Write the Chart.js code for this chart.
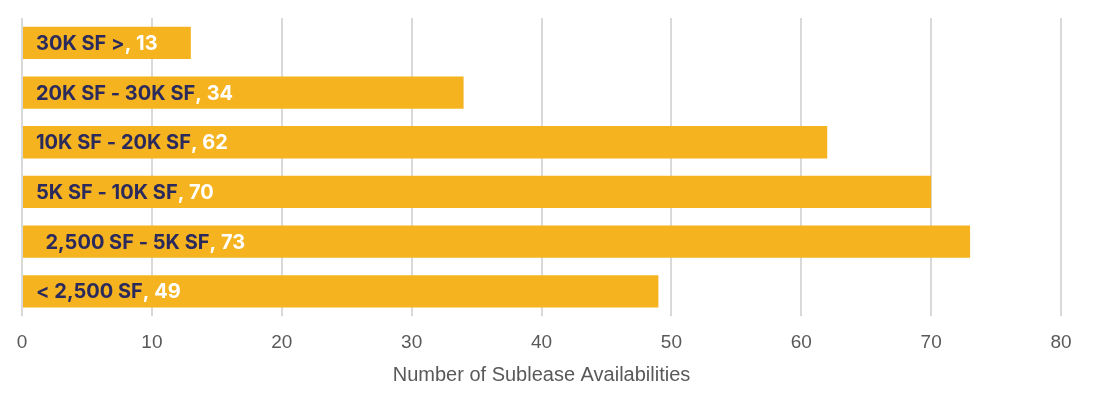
<!DOCTYPE html>
<html lang="en">
<head>
    <meta charset="UTF-8">
    <title>Sublease Availabilities</title>
    <script src="https://cdn.jsdelivr.net/npm/chart.js"></script>
    <style>
        body { margin: 0; background: #fff; }
        .chart-container { position: relative; width: 1108px; height: 395px; }
    </style>
</head>
<body>
<div class="chart-container">
    <canvas id="chart"></canvas>
</div>
<script>
    // Данные
    const categories = ['30K SF >', '20K SF - 30K SF', '10K SF - 20K SF', '5K SF - 10K SF', '  2,500 SF - 5K SF', '< 2,500 SF'];
    const values = [13, 34, 62, 70, 73, 49];
    const xTicks = [0, 10, 20, 30, 40, 50, 60, 70, 80];

    const BAR_COLOR = '#F5B320';
    const NAVY = '#2A2A5C';

    // Подписи внутри столбцов: категория тёмным, значение белым
    const barLabels = {
        id: 'barLabels',
        afterDatasetsDraw(chart) {
            const ctx = chart.ctx;
            const meta = chart.getDatasetMeta(0);
            ctx.save();
            ctx.font = 'bold 20px Inter';
            ctx.textBaseline = 'middle';
            ctx.textAlign = 'left';
            meta.data.forEach((bar, i) => {
                const x = bar.base + 13;
                const y = bar.y + 1;
                const name = categories[i];
                ctx.fillStyle = NAVY;
                ctx.fillText(name, x, y);
                const w = ctx.measureText(name).width;
                ctx.fillStyle = '#ffffff';
                ctx.fillText(', ' + values[i], x + w, y);
            });
            ctx.restore();
        }
    };

    new Chart(document.getElementById('chart'), {
        type: 'bar',
        data: {
            labels: categories,
            datasets: [{
                data: values,
                backgroundColor: BAR_COLOR,
                borderWidth: 0,
                barPercentage: 0.65,
                categoryPercentage: 1.0
            }]
        },
        plugins: [barLabels],
        options: {
            indexAxis: 'y',
            responsive: true,
            maintainAspectRatio: false,
            animation: false,
            layout: {
                padding: {left: 22, right: 47, top: 18, bottom: 10}
            },
            plugins: {
                legend: {display: false},
                tooltip: {enabled: false}
            },
            scales: {
                y: {
                    display: false
                },
                x: {
                    min: 0,
                    max: 80,
                    afterBuildTicks: axis => { axis.ticks = xTicks.map(v => ({value: v})); },
                    grid: {
                        color: '#d9d9d9',
                        lineWidth: 2,
                        drawTicks: true,
                        tickLength: 0
                    },
                    border: {display: false},
                    ticks: {
                        color: '#595959',
                        padding: 15,
                        font: {family: 'Liberation Sans', size: 19}
                    },
                    title: {
                        display: true,
                        text: 'Number of Sublease Availabilities',
                        color: '#595959',
                        padding: {top: -4, bottom: 0},
                        font: {family: 'Liberation Sans', size: 20, lineHeight: 1}
                    }
                }
            }
        }
    });
</script>
</body>
</html>
